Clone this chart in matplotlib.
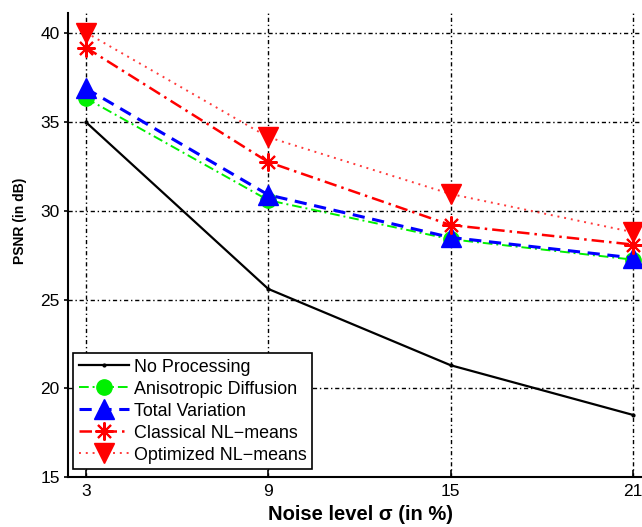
import matplotlib
matplotlib.use("Agg")
import matplotlib.pyplot as plt

noise = [3, 9, 15, 21]
no_processing = [35.0, 25.6, 21.3, 18.5]
anisotropic = [36.35, 30.6, 28.4, 27.25]
total_variation = [36.9, 30.9, 28.5, 27.35]
classical_nlm = [39.2, 32.75, 29.2, 28.1]
optimized_nlm = [40.05, 34.15, 30.95, 28.8]

xticks = [3, 9, 15, 21]
yticks = [15, 20, 25, 30, 35, 40]

plt.rcParams['font.family'] = ['Liberation Sans', 'DejaVu Sans']

W, H = 642, 527
fig = plt.figure(figsize=(W / 100, H / 100), dpi=100)
ax = fig.add_axes([68 / W, (H - 477) / H, (W - 68) / W, (477 - 13) / H])

ax.plot(noise, no_processing, color='black', lw=1.6, ls='-', marker='.', ms=4,
        label='No Processing', zorder=3)
ax.plot(noise, anisotropic, color='#00f000', lw=1.4, ls=(0, (5, 2, 1, 2)), marker='o',
        ms=11, mec='#00f000', mfc='#00f000', label='Anisotropic Diffusion', zorder=4)
ax.plot(noise, total_variation, color='#0000ff', lw=2.2, ls=(0, (4, 2.5)), marker='^',
        ms=14, mec='#0000ff', mfc='#0000ff', label='Total Variation', zorder=5)
ax.plot(noise, classical_nlm, color='#ff0000', lw=1.8, ls=(0, (5, 2, 1, 2)), marker=(8, 2, 0),
        ms=13, mew=1.5, mec='#ff0000', label='Classical NL\u2212means', zorder=6)
ax.plot(noise, optimized_nlm, color='#ff3a3a', lw=1.4, ls=(0, (1, 2.5)), marker='v',
        ms=14, mec='#ff0000', mfc='#ff0000', label='Optimized NL\u2212means', zorder=7)

ax.set_xlim(2.41, 21.3)
ax.set_ylim(15, 41.15)
ax.set_xticks(xticks)
ax.set_yticks(yticks)
ax.tick_params(axis='both', labelsize=12.5, colors='black', width=1.2)
ax.tick_params(axis='x', direction='in', length=5, pad=5)
ax.tick_params(axis='y', direction='out', length=3, pad=3)

ax.grid(True, color='black', lw=1.0, ls=(0, (3, 2, 1, 2)))
ax.set_axisbelow(True)
for s in ['top', 'right']:
    ax.spines[s].set_visible(False)
for s in ['left', 'bottom']:
    ax.spines[s].set_linewidth(1.5)

ax.set_xlabel('Noise level \u03c3 (in %)', fontsize=14.5, fontweight='bold')
ax.xaxis.set_label_coords(0.51, -0.06)
ax.set_ylabel('PSNR (in dB)', fontsize=10, fontweight='bold')
ax.yaxis.set_label_coords(-0.072, 0.552)

leg = ax.legend(loc='lower left', bbox_to_anchor=(0.009, 0.017), borderaxespad=0,
                fontsize=12.9, frameon=True, fancybox=False, framealpha=1,
                edgecolor='black', handlelength=2.8, labelspacing=0.28,
                handletextpad=0.3, borderpad=0.3, markerscale=1.0)
leg.get_frame().set_linewidth(1.2)

fig.savefig('out.png', dpi=100)
